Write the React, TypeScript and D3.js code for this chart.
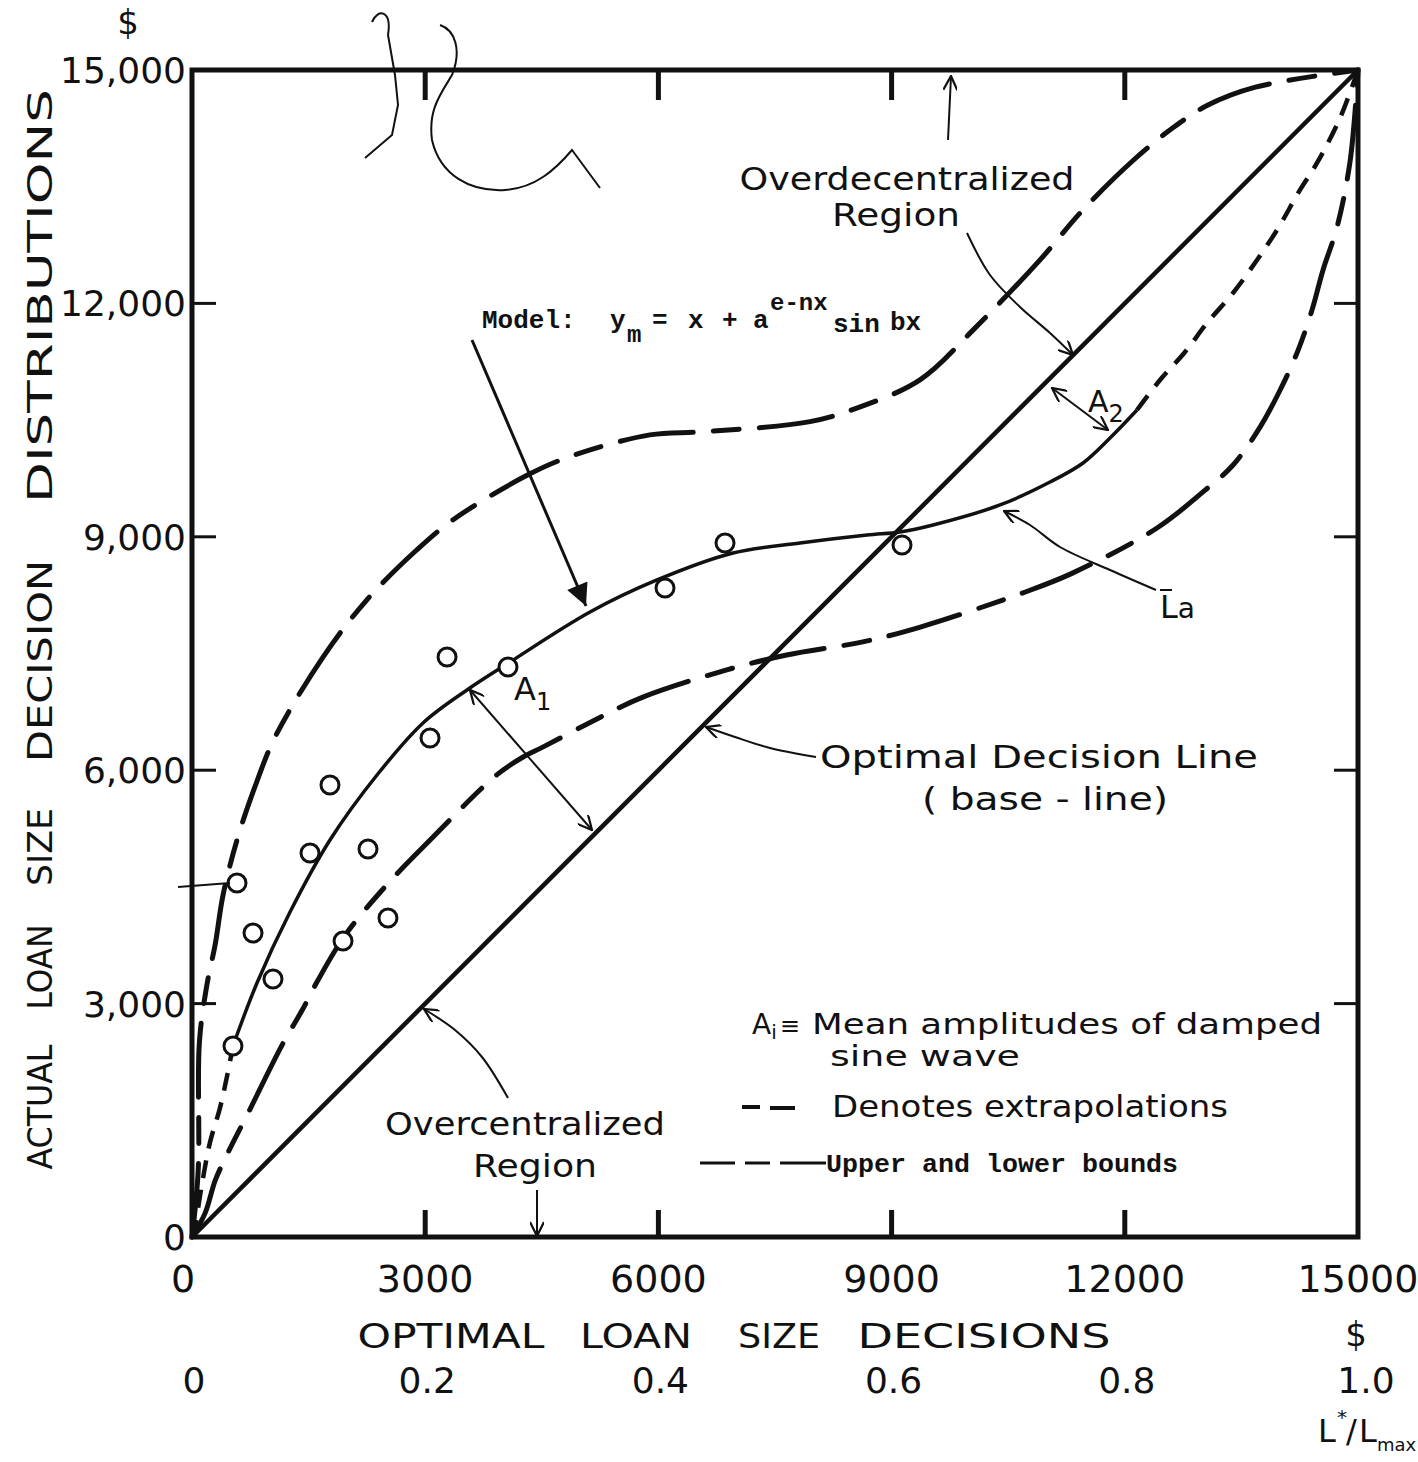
import React from "react";
import * as d3 from "d3";

// ---------- data (values in dollars) ----------
const xTicks = [0, 3000, 6000, 9000, 12000, 15000];
const xTickLabels = ["0", "3000", "6000", "9000", "12000", "15000"];
const yTicks = [0, 3000, 6000, 9000, 12000, 15000];
const yTickLabels = ["0", "3,000", "6,000", "9,000", "12,000", "15,000"];
const ratioTicks = [0, 0.2, 0.4, 0.6, 0.8, 1.0];
const ratioLabels = ["0", "0.2", "0.4", "0.6", "0.8", "1.0"];
const innerTicks = [3000, 6000, 9000, 12000];

const optimalLine = [[0, 0], [15000, 15000]];

const upperBoundX = [0, 80, 95, 190, 300, 400, 590, 840, 1070, 1690, 2250, 2890, 3360, 4310, 4860, 5890, 6570, 7950, 8570, 9370, 10050, 10910, 11460, 12110, 12610, 13070, 13680, 15000];
const upperBoundY = [0, 860, 2500, 3230, 3770, 4400, 5140, 5870, 6430, 7460, 8190, 8830, 9220, 9790, 10030, 10310, 10350, 10480, 10660, 11020, 11660, 12560, 13200, 13840, 14250, 14550, 14780, 15000];

const lowerBoundX = [0, 170, 300, 490, 720, 1160, 1420, 1620, 1970, 2500, 3060, 3920, 4260, 4500, 5310, 5800, 6880, 7650, 8630, 9370, 10690, 11320, 12410, 13010, 13390, 13740, 14000, 14230, 14410, 14550, 14730, 14900, 15000];
const lowerBoundY = [0, 310, 730, 1140, 1590, 2470, 2920, 3300, 3880, 4520, 5100, 5940, 6170, 6290, 6710, 6940, 7290, 7480, 7650, 7840, 8280, 8530, 9110, 9580, 9920, 10410, 10890, 11400, 11920, 12430, 12980, 13840, 15000];

// fitted model L_a (solid part)
const modelX = [527, 836, 1261, 1775, 2380, 2972, 3538, 4052, 5120, 5982, 6960, 7822, 8684, 9108, 9533, 10395, 11038, 11463, 11810, 12157];
const modelY = [2455, 3265, 4177, 5103, 5938, 6607, 7031, 7365, 8033, 8445, 8792, 8920, 9023, 9062, 9152, 9409, 9704, 9949, 10270, 10630];

// extrapolated parts of the model
const extraLowX = [0, 40, 130, 230, 360, 460, 527];
const extraLowY = [0, 150, 690, 1210, 1660, 2110, 2455];
const extraHighX = [12157, 12453, 12775, 13058, 13392, 13701, 13958, 14254, 14473, 14769, 15000];
const extraHighY = [10630, 11015, 11375, 11748, 12134, 12558, 12943, 13458, 13805, 14383, 15000];

// observed decisions (circles)
const obsX = [527, 785, 1042, 579, 1518, 1775, 1943, 2264, 2521, 3062, 3281, 4065, 6085, 6857, 9134];
const obsY = [2455, 3907, 3316, 4550, 4936, 5810, 3805, 4987, 4100, 6414, 7455, 7326, 8342, 8920, 8895];

const zip = (a: number[], b: number[]) => a.map((v, i) => [v, b[i]] as [number, number]);

export default function App() {
  const W = 1418, H = 1462;
  const x = d3.scaleLinear().domain([0, 15000]).range([192, 1358]);
  const y = d3.scaleLinear().domain([0, 15000]).range([1237, 70]);
  const line = d3.line<[number, number]>().x(d => x(d[0])).y(d => y(d[1])).curve(d3.curveCatmullRom.alpha(0.5));
  const pline = d3.line<[number, number]>().x(d => d[0]).y(d => d[1]).curve(d3.curveCatmullRom.alpha(0.5));

  const ink = "#111";
  const font = "'DejaVu Sans', Verdana, sans-serif";
  const mono = "'Liberation Mono', 'DejaVu Sans Mono', monospace";

  const word = (t: string, cx: number, cy: number, len: number, size = 34, extra: any = {}) => (
    <text x={cx - len / 2} y={cy} textLength={len} lengthAdjust="spacingAndGlyphs" fontSize={size} fontFamily={font} fill={ink} {...extra}>{t}</text>
  );

  return (
    <svg width={W} height={H} viewBox={`0 0 ${W} ${H}`} style={{ position: "absolute", left: 0, top: 0, background: "#fff" }}>
      <defs>
        <marker id="fill" viewBox="0 0 10 10" refX="10" refY="5" markerWidth="26" markerHeight="22" markerUnits="userSpaceOnUse" orient="auto">
          <path d="M0,0 L10,5 L0,10 z" fill={ink} />
        </marker>
        <marker id="open" viewBox="0 0 10 10" refX="10" refY="5" markerWidth="16" markerHeight="14" markerUnits="userSpaceOnUse" orient="auto-start-reverse">
          <path d="M0,0 L10,5 L0,10" fill="none" stroke={ink} strokeWidth="1.6" />
        </marker>
      </defs>
      <rect x={0} y={0} width={W} height={H} fill="#fff" />

      {/* frame */}
      <rect x={x(0)} y={y(15000)} width={x(15000) - x(0)} height={y(0) - y(15000)} fill="none" stroke={ink} strokeWidth={5} />
      {innerTicks.map(t => (
        <g key={"it" + t} stroke={ink} strokeWidth={5}>
          <line x1={x(t)} x2={x(t)} y1={y(15000)} y2={y(15000) + 30} />
          <line x1={x(t)} x2={x(t)} y1={y(0)} y2={y(0) - 27} />
          <line x1={x(0)} x2={x(0) + 24} y1={y(t)} y2={y(t)} strokeWidth={3} />
          <line x1={x(15000)} x2={x(15000) - 24} y1={y(t)} y2={y(t)} strokeWidth={3} />
        </g>
      ))}

      {/* curves */}
      <path d={line(optimalLine as any) || ""} fill="none" stroke={ink} strokeWidth={4.5} />
      <path d={line(zip(upperBoundX, upperBoundY)) || ""} fill="none" stroke={ink} strokeWidth={5} strokeDasharray="74 20 26 20" strokeLinecap="round" />
      <path d={line(zip(lowerBoundX, lowerBoundY)) || ""} fill="none" stroke={ink} strokeWidth={5} strokeDasharray="74 20 26 20" strokeLinecap="round" />
      <path d={line(zip(modelX, modelY)) || ""} fill="none" stroke={ink} strokeWidth={3.5} />
      <path d={line(zip(extraLowX, extraLowY)) || ""} fill="none" stroke={ink} strokeWidth={4.5} strokeDasharray="18 12" />
      <path d={line(zip(extraHighX, extraHighY)) || ""} fill="none" stroke={ink} strokeWidth={4.5} strokeDasharray="18 12" />

      {obsX.map((v, i) => (
        <circle key={"o" + i} cx={x(v)} cy={y(obsY[i])} r={9} fill="#fff" stroke={ink} strokeWidth={3} />
      ))}

      {/* y tick labels */}
      {yTicks.map((t, i) => (
        <text key={"yl" + t} x={x(0) - 6} y={y(t) + 13} textAnchor="end" fontSize={36} fontFamily={font} fill={ink}>{yTickLabels[i]}</text>
      ))}
      <text x={128} y={34} textAnchor="middle" fontSize={34} fontFamily={font} fill={ink}>$</text>

      {/* x tick labels */}
      {xTicks.map((t, i) => (
        <text key={"xl" + t} x={x(t) - (t === 0 ? 9 : 0)} y={1292} textAnchor="middle" fontSize={38} fontFamily={font} fill={ink}>{xTickLabels[i]}</text>
      ))}
      {ratioTicks.map((t, i) => (
        <text key={"rl" + t} x={x(t * 15000) + (t === 1 ? 8 : 2)} y={1393} textAnchor="middle" fontSize={36} fontFamily={font} fill={ink}>{ratioLabels[i]}</text>
      ))}

      {/* x title */}
      {word("OPTIMAL", 451, 1348, 187, 33)}
      {word("LOAN", 636, 1348, 112, 33)}
      {word("SIZE", 779, 1348, 82, 33)}
      {word("DECISIONS", 984, 1348, 253, 33)}
      <text x={1356} y={1346} textAnchor="middle" fontSize={34} fontFamily={font} fill={ink}>$</text>
      <text x={1318} y={1442} fontSize={32} fontFamily={font} fill={ink}>L</text>
      <text x={1337} y={1424} fontSize={20} fontFamily={font} fill={ink}>*</text>
      <text x={1346} y={1442} fontSize={32} fontFamily={font} fill={ink}>/</text>
      <text x={1359} y={1442} fontSize={32} fontFamily={font} fill={ink}>L</text>
      <text x={1377} y={1451} fontSize={18} fontFamily={font} fill={ink}>max</text>

      {/* y title */}
      <g transform="translate(52,0) rotate(-90)" fill={ink}>
        {[["ACTUAL", 1107, 125], ["LOAN", 967, 85], ["SIZE", 847, 78], ["DECISION", 661, 202], ["DISTRIBUTIONS", 296, 414]].map(([t, c, l]) => (
          <text key={t as string} x={-(c as number) - (l as number) / 2} y={0} textLength={l as number} lengthAdjust="spacingAndGlyphs" fontSize={33} fontFamily={font}>{t}</text>
        ))}
      </g>

      {/* annotations */}
      {word("Overdecentralized", 907, 190, 335, 32)}
      {word("Region", 896, 226, 128, 32)}
      <path d={pline([[967, 233], [990, 275], [1020, 307], [1050, 333], [1073, 355]]) || ""} fill="none" stroke={ink} strokeWidth={2} markerEnd="url(#open)" />
      <path d="M948,140 L951,76" fill="none" stroke={ink} strokeWidth={2} markerEnd="url(#open)" />

      <text x={482} y={328} fontSize={26} fontWeight="bold" fontFamily={mono} fill={ink}>Model:</text>
      <text x={610} y={328} fontSize={26} fontWeight="bold" fontFamily={mono} fill={ink}>y</text>
      <text x={627} y={342} fontSize={24} fontWeight="bold" fontFamily={mono} fill={ink}>m</text>
      <text x={652} y={328} fontSize={26} fontWeight="bold" fontFamily={mono} fill={ink}>=</text>
      <text x={688} y={328} fontSize={26} fontWeight="bold" fontFamily={mono} fill={ink}>x</text>
      <text x={722} y={328} fontSize={26} fontWeight="bold" fontFamily={mono} fill={ink}>+</text>
      <text x={753} y={328} fontSize={26} fontWeight="bold" fontFamily={mono} fill={ink}>a</text>
      <text x={770} y={310} fontSize={24} fontWeight="bold" fontFamily={mono} fill={ink}>e-nx</text>
      <text x={833} y={332} fontSize={26} fontWeight="bold" fontFamily={mono} fill={ink}>sin</text>
      <text x={890} y={330} fontSize={26} fontWeight="bold" fontFamily={mono} fill={ink}>bx</text>
      <line x1={472} y1={340} x2={586} y2={606} stroke={ink} strokeWidth={3} markerEnd="url(#fill)" />

      <text x={1088} y={412} fontSize={30} fontFamily={font} fill={ink}>A<tspan dy={10} fontSize={24}>2</tspan></text>
      <line x1={1052} y1={388} x2={1108} y2={430} stroke={ink} strokeWidth={2} markerStart="url(#open)" markerEnd="url(#open)" />

      <text x={1160} y={618} fontSize={32} fontFamily={font} fill={ink}>L<tspan fontSize={28}>a</tspan></text>
      <line x1={1160} y1={590} x2={1172} y2={590} stroke={ink} strokeWidth={2} />
      <path d={pline([[1156, 590], [1110, 570], [1060, 547], [1030, 525], [1004, 511]]) || ""} fill="none" stroke={ink} strokeWidth={2} markerEnd="url(#open)" />

      <text x={514} y={700} fontSize={32} fontFamily={font} fill={ink}>A<tspan dy={10} fontSize={24}>1</tspan></text>
      <line x1={470} y1={690} x2={592} y2={830} stroke={ink} strokeWidth={2} markerStart="url(#open)" markerEnd="url(#open)" />

      {word("Optimal  Decision  Line", 1039, 768, 438, 32)}
      {word("( base - line)", 1045, 810, 246, 32)}
      <path d={pline([[816, 757], [770, 748], [735, 737], [706, 727]]) || ""} fill="none" stroke={ink} strokeWidth={2} markerEnd="url(#open)" />

      {word("Overcentralized", 525, 1135, 280, 32)}
      {word("Region", 535, 1177, 124, 32)}
      <path d={pline([[508, 1098], [482, 1057], [455, 1030], [424, 1009]]) || ""} fill="none" stroke={ink} strokeWidth={2} markerEnd="url(#open)" />
      <line x1={537} y1={1190} x2={537} y2={1236} stroke={ink} strokeWidth={2} markerEnd="url(#open)" />

      <line x1={178} y1={887} x2={230} y2={883} stroke={ink} strokeWidth={2} />

      {/* legend */}
      <text x={752} y={1034} fontSize={28} fontFamily={font} fill={ink}>A<tspan dy={5} fontSize={20}>i</tspan><tspan dy={-5} dx={3} fontSize={24}>≡</tspan></text>
      <text x={812} y={1034} textLength={510} lengthAdjust="spacingAndGlyphs" fontSize={28} fontFamily={font} fill={ink}>Mean  amplitudes  of  damped</text>
      <text x={830} y={1066} textLength={190} lengthAdjust="spacingAndGlyphs" fontSize={28} fontFamily={font} fill={ink}>sine  wave</text>
      <line x1={742} y1={1107} x2={760} y2={1107} stroke={ink} strokeWidth={4} />
      <line x1={770} y1={1108} x2={795} y2={1108} stroke={ink} strokeWidth={4} />
      <text x={832} y={1117} textLength={396} lengthAdjust="spacingAndGlyphs" fontSize={30} fontFamily={font} fill={ink}>Denotes  extrapolations</text>
      <line x1={700} y1={1163} x2={735} y2={1163} stroke={ink} strokeWidth={3} />
      <line x1={745} y1={1163} x2={770} y2={1163} stroke={ink} strokeWidth={3} />
      <line x1={780} y1={1163} x2={826} y2={1163} stroke={ink} strokeWidth={3} />
      <text x={826} y={1172} textLength={352} lengthAdjust="spacingAndGlyphs" fontSize={25} fontWeight="bold" fontFamily={mono} fill={ink}>Upper and lower bounds</text>

      {/* stray pen marks on the original */}
      <path d="M372,22 C378,8 392,10 388,35 L395,75 L398,105 L392,135 L365,158" fill="none" stroke={ink} strokeWidth={2} />
      <path d="M440,25 C455,30 462,50 452,75 C440,95 428,110 432,140 C440,175 470,192 505,190 C535,188 555,170 572,150 L600,188" fill="none" stroke={ink} strokeWidth={2} />
    </svg>
  );
}
